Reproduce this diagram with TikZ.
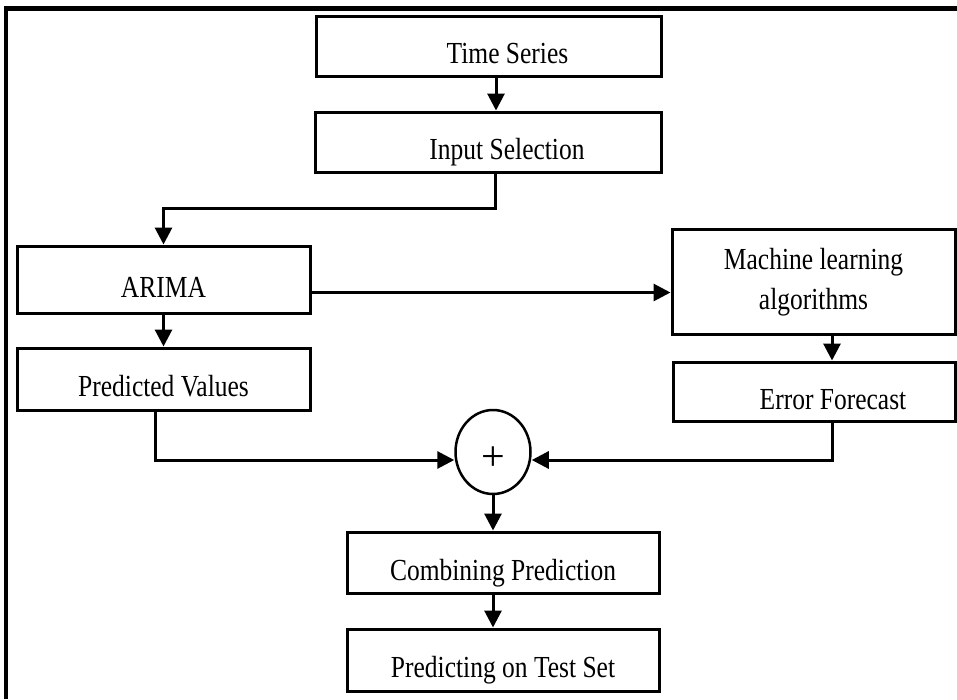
\documentclass[tikz,border=0pt]{standalone}
\usepackage{fontspec}
\setmainfont{Liberation Serif}
\usepackage{tikz}
\usetikzlibrary{arrows.meta,shapes.geometric}
\newcommand{\tall}[1]{\scalebox{1}[1.2]{#1}}

\begin{document}
\begin{tikzpicture}[x=1pt,y=-1pt,
		box/.style={draw, line width=3pt, rectangle, inner sep=0pt,
			font=\fontsize{25.5}{40}\selectfont, text height=35.5pt, text depth=0pt},
		arr/.style={line width=3pt, -{Triangle[width=17pt,length=17pt]}}]
			\useasboundingbox (0,0) rectangle (957,699);
			%Moldura
			\draw[line width=4.5pt] (6,699) -- (6,8.5) -- (957,8.5);

			%Caixas
			\node[box, minimum width=345pt, minimum height=60pt] (ts) at (488.5,46) {\hspace*{38pt}\tall{Time Series}};
			\node[box, minimum width=346pt, minimum height=60pt] (insel) at (488,142) {\hspace*{38pt}\tall{Input Selection}};
			\node[box, minimum width=293pt, minimum height=67pt] (arima) at (163.5,279.5) {\tall{ARIMA}};
			\node[box, minimum width=293pt, minimum height=62pt] (pred) at (163.5,379) {\tall{Predicted Values}};
			\node[box, minimum width=283pt, minimum height=105pt, align=center, text height=, text depth=] (ml) at (813.5,282) {\tall{Machine learning}\\\tall{algorithms}};
			\node[box, minimum width=282pt, minimum height=59pt] (err) at (814,391.5) {\hspace*{38pt}\tall{Error Forecast}};
			\node[draw, ellipse, line width=2.5pt, inner sep=0pt, minimum width=75pt, minimum height=84pt,
				font=\fontsize{42}{42}\selectfont, text height=37pt, text depth=0pt] (sum) at (493,452) {+};
			\node[box, minimum width=312pt, minimum height=61pt] (comb) at (503,562.5) {\tall{Combining Prediction}};
			\node[box, minimum width=312pt, minimum height=62pt] (test) at (503,660) {\tall{Predicting on Test Set}};

			%Setas
			\draw[arr] ([xshift=7.5pt]ts.south) -- ([xshift=8pt]insel.north);
			\draw[arr] ([xshift=7pt]insel.south) -- ++(0,35) -| (arima.north);
			\draw[arr] (arima.south) -- (pred.north);
			\draw[arr] ([yshift=-13pt]arima.east) -- ([yshift=-13pt]arima.east -| ml.west);
			\draw[arr] ([xshift=18.5pt]ml.south) -- ([xshift=18.5pt]ml.south |- err.north);
			\draw[arr] ([xshift=-8.5pt]pred.south) |- ([yshift=-8pt]sum.west);
			\draw[arr] ([xshift=18pt]err.south) |- ([yshift=-8pt]sum.east);
			\draw[arr] (sum.south) -- (sum.south |- comb.north);
			\draw[arr] (sum.south |- comb.south) -- (sum.south |- test.north);
\end{tikzpicture}
\end{document}
